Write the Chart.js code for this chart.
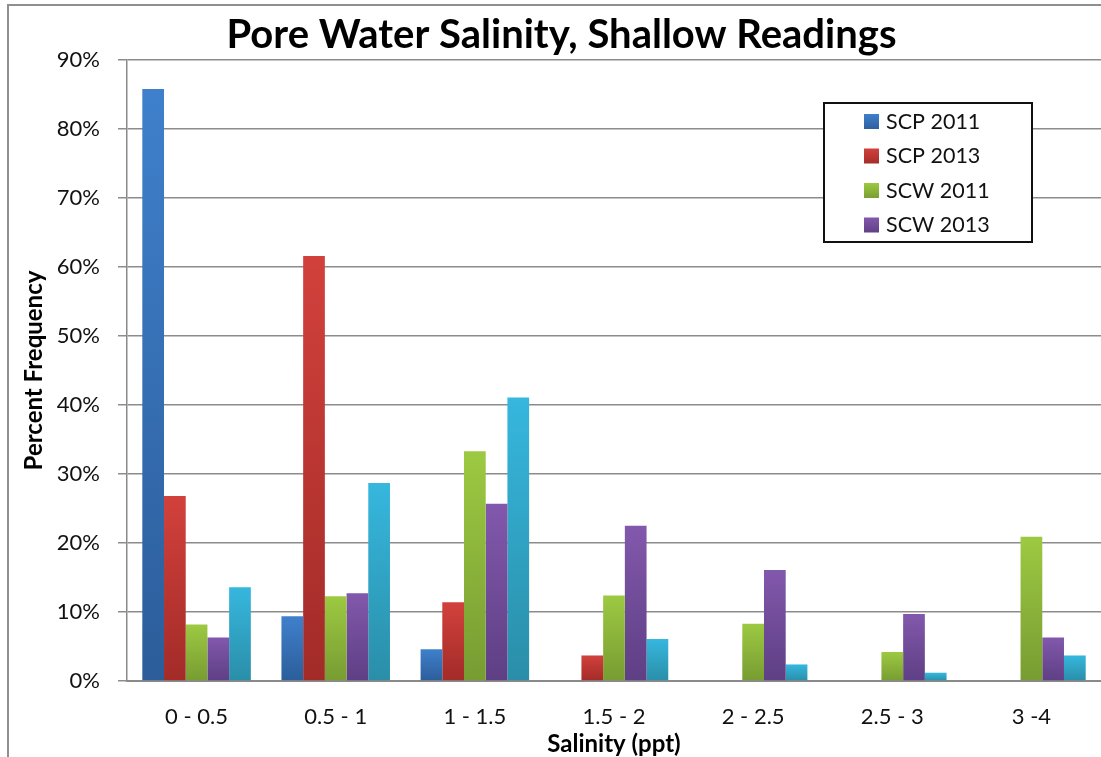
<!DOCTYPE html>
<html>
<head>
<meta charset="utf-8">
<script src="https://cdn.jsdelivr.net/npm/chart.js@4.4.1/dist/chart.umd.min.js"></script>
<style>
  html, body { margin: 0; padding: 0; background: #fff; }
  canvas { display: block; }
</style>
</head>
<body>
<canvas id="salinity-chart" width="1101" height="757"></canvas>
<script>
const categories = ["0 - 0.5", "0.5 - 1", "1 - 1.5", "1.5 - 2", "2 - 2.5", "2.5 - 3", "3 -4"];
const scp2011 = [85.8, 9.4, 4.6, 0, 0, 0, 0];
const scp2013 = [26.8, 61.6, 11.4, 3.7, 0, 0, 0];
const scw2011 = [8.2, 12.3, 33.3, 12.4, 8.3, 4.2, 20.9];
const scw2013 = [6.3, 12.7, 25.7, 22.5, 16.1, 9.7, 6.3];
const unlabelled = [13.6, 28.7, 41.1, 6.1, 2.4, 1.2, 3.7];
const yTicks = [0, 10, 20, 30, 40, 50, 60, 70, 80, 90];

const FONT = "Lato, 'Open Sans', sans-serif";

// top and bottom shade of each series
const shades = [
    ["#3f80cc", "#2c5d9a"],
    ["#d2413c", "#a22b28"],
    ["#9dc942", "#779c32"],
    ["#8258ac", "#5e3f84"],
    ["#36b7de", "#2a8ea8"]
];

let barGradient = i => ctx => {
    const chart = ctx.chart;
    const y = chart.scales.y;
    if (!y || ctx.raw === undefined) return shades[i][0];
    const top = y.getPixelForValue(ctx.raw);
    const bottom = y.getPixelForValue(0);
    if (!isFinite(top) || !isFinite(bottom) || bottom - top < 1) return shades[i][1];
    const g = chart.ctx.createLinearGradient(0, top, 0, bottom);
    g.addColorStop(0, shades[i][0]);
    g.addColorStop(1, shades[i][1]);
    return g;
};

let makeSet = (label, data, i) => ({
    label: label,
    data: data,
    backgroundColor: barGradient(i),
    borderWidth: 0,
    inLegend: i < 4
});

// legend box sitting inside the plot
const boxLegend = {
    id: "boxLegend",
    afterDraw(chart) {
        const c = chart.ctx;
        const x = 824, y = 103, w = 208, h = 139;
        c.save();
        c.fillStyle = "#fff";
        c.fillRect(x, y, w, h);
        c.strokeStyle = "#111";
        c.lineWidth = 2;
        c.strokeRect(x, y, w, h);
        c.font = "21.5px " + FONT;
        c.textBaseline = "middle";
        chart.data.datasets.forEach((ds, i) => {
            if (!ds.inLegend) return;
            const cy = y + 19 + i * 34.5;
            const g = c.createLinearGradient(0, cy - 8, 0, cy + 8);
            g.addColorStop(0, shades[i][0]);
            g.addColorStop(1, shades[i][1]);
            c.fillStyle = g;
            c.fillRect(x + 40, cy - 8, 15, 15);
            c.fillStyle = "#111";
            c.fillText(ds.label, x + 62, cy);
        });
        c.restore();
    }
};

// outer frame of the picture, and nudge the title a little right
const frame = {
    id: "frame",
    afterLayout(chart) {
        if (chart.titleBlock) chart.titleBlock.left += 22;
    },
    beforeDraw(chart) {
        const c = chart.ctx;
        c.save();
        c.fillStyle = "#fff";
        c.fillRect(0, 0, chart.width, chart.height);
        c.strokeStyle = "#8f8f8f";
        c.lineWidth = 2;
        c.beginPath();
        c.moveTo(8, chart.height);
        c.lineTo(8, 5);
        c.lineTo(chart.width, 5);
        c.stroke();
        c.restore();
    }
};

const chartData = {
    labels: categories,
    datasets: [
        makeSet("SCP 2011", scp2011, 0),
        makeSet("SCP 2013", scp2013, 1),
        makeSet("SCW 2011", scw2011, 2),
        makeSet("SCW 2013", scw2013, 3),
        makeSet("", unlabelled, 4)
    ]
};

const chartOptions = {
    responsive: false,
    animation: false,
    events: [],
    categoryPercentage: 0.78,
    barPercentage: 1.0,
    layout: {
        padding: { left: 0, right: 0, top: 0, bottom: 0 }
    },
    plugins: {
        legend: { display: false },
        tooltip: { enabled: false },
        title: {
            display: true,
            text: "Pore Water Salinity, Shallow Readings",
            color: "#000",
            font: { family: FONT, size: 40, weight: "bold" },
            padding: { top: 11, bottom: 1 }
        }
    },
    scales: {
        x: {
            grid: { display: false },
            border: { display: true, color: "#8a8a8a", width: 2 },
            ticks: {
                color: "#111",
                font: { family: FONT, size: 22 },
                padding: 15,
                maxRotation: 0
            },
            title: {
                display: true,
                text: "Salinity (ppt)",
                color: "#000",
                font: { family: FONT, size: 24, weight: "bold" },
                padding: { top: 0, bottom: -2 }
            },
            afterFit: scale => { scale.height = 76; }
        },
        y: {
            min: 0,
            max: 90,
            afterBuildTicks: scale => {
                scale.ticks = yTicks.map(v => ({ value: v }));
            },
            grid: {
                color: "#8c8c8c",
                lineWidth: 1.5,
                tickLength: 9,
                drawTicks: true
            },
            border: { display: true, color: "#8a8a8a", width: 1.5 },
            ticks: {
                color: "#111",
                font: { family: FONT, size: 22 },
                padding: 18,
                callback: v => v + "%"
            },
            title: {
                display: true,
                text: "Percent Frequency",
                color: "#000",
                font: { family: FONT, size: 24, weight: "bold" },
                padding: { top: 20, bottom: 0 }
            },
            afterFit: scale => { scale.width = 127; }
        }
    }
};

new Chart("salinity-chart", {
    type: "bar",
    data: chartData,
    options: chartOptions,
    plugins: [frame, boxLegend]
});
</script>
</body>
</html>
